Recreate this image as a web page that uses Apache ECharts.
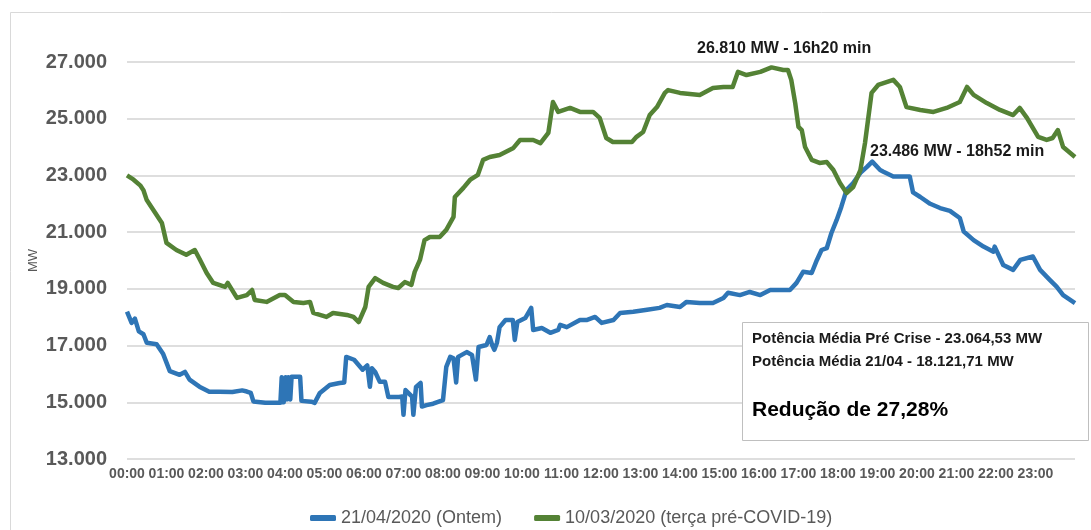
<!DOCTYPE html>
<html>
<head>
<meta charset="utf-8">
<title>Carga horária - 21/04 x 10/03</title>
<script src="https://cdn.jsdelivr.net/npm/echarts@6/dist/echarts.min.js"></script>
<style>
  html, body { margin: 0; padding: 0; background: #fff; }
  #grafico { width: 1091px; height: 530px; }
</style>
</head>
<body>
<div id="grafico"></div>
<script>
// rótulos do eixo horizontal (um por hora)
const horas = ['00:00', '01:00', '02:00', '03:00', '04:00', '05:00', '06:00', '07:00',
  '08:00', '09:00', '10:00', '11:00', '12:00', '13:00', '14:00', '15:00',
  '16:00', '17:00', '18:00', '19:00', '20:00', '21:00', '22:00', '23:00'];

const nomeOntem = '21/04/2020 (Ontem)';
const nomePreCovid = '10/03/2020 (terça pré-COVID-19)';

// [minuto do dia, MW]
const ontem = [
  [0, 18200], [7, 17800], [12, 17950], [18, 17500], [25, 17400], [30, 17100], [45, 17050],
  [55, 16700], [65, 16100], [80, 15970], [88, 16070], [95, 15800], [110, 15550], [125, 15370],
  [140, 15370], [160, 15360], [175, 15420], [182, 15380], [188, 15330], [192, 15030], [210, 14980],
  [233, 14980], [235, 15880], [238, 15000], [240, 15000], [241, 15880], [243, 15100], [245, 15880],
  [248, 15100], [250, 15900], [263, 15900], [265, 15050], [280, 15020], [285, 14980], [293, 15330],
  [308, 15610], [323, 15680], [330, 15700], [333, 16600], [345, 16500], [358, 16150], [365, 16300],
  [369, 15550], [372, 16200], [377, 16070], [384, 15720], [392, 15720], [397, 15190], [413, 15190],
  [418, 15200], [420, 14560], [423, 15430], [433, 15200], [435, 14560], [439, 15540], [446, 15680],
  [448, 14850], [455, 14900], [465, 14950], [480, 15080], [485, 16250], [491, 16600], [496, 16550],
  [500, 15700], [503, 16600], [516, 16770], [524, 16670], [530, 15800], [534, 16950], [546, 17020],
  [551, 17300], [555, 17000], [558, 16850], [562, 17100], [566, 17650], [575, 17900], [586, 17900],
  [589, 17200], [593, 17830], [605, 17970], [614, 18330], [617, 17550], [630, 17620], [643, 17450],
  [655, 17550], [658, 17730], [668, 17650], [688, 17900], [698, 17900], [711, 18010], [721, 17800],
  [739, 17900], [749, 18150], [769, 18190], [790, 18260], [809, 18330], [820, 18430], [840, 18360],
  [850, 18540], [870, 18500], [890, 18500], [906, 18680], [913, 18860], [931, 18780], [946, 18890],
  [962, 18780], [977, 18960], [992, 18960], [1007, 18960], [1017, 19210], [1027, 19600], [1040, 19560],
  [1048, 20020], [1055, 20370], [1063, 20440], [1070, 20970], [1078, 21430], [1085, 21890], [1093, 22490],
  [1103, 22730], [1114, 23090], [1124, 23300], [1132, 23486], [1144, 23190], [1149, 23130], [1164, 22960],
  [1189, 22960], [1194, 22400], [1205, 22240], [1220, 22000], [1235, 21850], [1250, 21750], [1265, 21500],
  [1271, 21020], [1286, 20720], [1301, 20490], [1316, 20310], [1318, 20490], [1331, 19840], [1346, 19670],
  [1357, 20020], [1376, 20140], [1387, 19670], [1402, 19310], [1412, 19080], [1422, 18780], [1440, 18500]
];

const preCovid = [
  [0, 23000], [10, 22850], [20, 22650], [25, 22480], [30, 22130], [40, 21780], [53, 21320],
  [60, 20620], [75, 20370], [90, 20200], [103, 20370], [111, 20020], [121, 19560], [131, 19210],
  [149, 19070], [153, 19210], [167, 18680], [182, 18780], [190, 18960], [194, 18610], [212, 18540],
  [232, 18780], [240, 18780], [253, 18540], [268, 18500], [278, 18540], [283, 18150], [303, 18010],
  [306, 17990], [313, 18150], [334, 18080], [344, 18010], [352, 17830], [362, 18360], [367, 19070],
  [377, 19380], [389, 19210], [404, 19070], [412, 19030], [422, 19240], [432, 19140], [437, 19600],
  [445, 20020], [452, 20720], [460, 20830], [475, 20830], [485, 21080], [496, 21540], [498, 22240],
  [511, 22560], [521, 22840], [533, 23020], [541, 23550], [551, 23650], [566, 23720], [587, 23970],
  [597, 24250], [617, 24250], [628, 24140], [640, 24500], [647, 25590], [655, 25240], [673, 25380],
  [688, 25240], [708, 25240], [718, 25030], [728, 24320], [738, 24180], [754, 24180], [767, 24180],
  [774, 24360], [784, 24530], [794, 25130], [805, 25410], [817, 25910], [822, 26010], [840, 25910],
  [870, 25840], [890, 26080], [906, 26120], [920, 26120], [928, 26650], [941, 26540], [962, 26650],
  [979, 26810], [997, 26720], [1004, 26720], [1009, 26370], [1015, 25550], [1020, 24710], [1025, 24600],
  [1030, 24000], [1040, 23550], [1052, 23440], [1063, 23470], [1073, 23190], [1083, 22730], [1093, 22380],
  [1103, 22590], [1114, 23190], [1121, 24140], [1131, 25910], [1141, 26190], [1164, 26370], [1174, 26120],
  [1184, 25410], [1205, 25310], [1225, 25240], [1245, 25380], [1265, 25590], [1276, 26120], [1286, 25840],
  [1306, 25550], [1326, 25310], [1346, 25130], [1356, 25380], [1367, 25030], [1384, 24360], [1397, 24250],
  [1406, 24320], [1414, 24600], [1422, 24000], [1440, 23650]
];

const picoPreCovid = '26.810 MW - 16h20 min';
const picoOntem = '23.486 MW - 18h52 min';
const resumo = ['Potência Média Pré Crise - 23.064,53 MW', 'Potência Média 21/04 - 18.121,71 MW'];
const reducao = 'Redução de 27,28%';

const fonte = '"Liberation Sans", Arial, sans-serif';
const cinza = '#595959';

function milhar(v) {
  return String(v).replace(/\B(?=(\d{3})+(?!\d))/g, '.');
}

const chart = echarts.init(document.getElementById('grafico'));

chart.setOption({
  animation: false,
  backgroundColor: '#fff',
  textStyle: { fontFamily: fonte },
  grid: { left: 127, right: 16, top: 62, bottom: 71 },
  legend: {
    data: [nomeOntem, nomePreCovid],
    left: 305,
    top: 504,
    icon: 'roundRect',
    itemWidth: 26,
    itemHeight: 6,
    itemGap: 32,
    textStyle: { fontFamily: fonte, fontSize: 18, color: cinza }
  },
  xAxis: {
    type: 'value',
    min: 0,
    max: 1440,
    interval: 60,
    axisLine: { show: false },
    axisTick: { show: false },
    splitLine: { show: false },
    axisLabel: {
      margin: 8,
      fontFamily: fonte,
      fontSize: 14,
      fontWeight: 'bold',
      color: cinza,
      formatter: function (v) {
        return horas[v / 60] || '';
      }
    }
  },
  yAxis: {
    type: 'value',
    min: 13000,
    max: 27000,
    interval: 2000,
    name: 'MW',
    nameLocation: 'middle',
    nameGap: 87,
    nameMoveOverlap: false,
    nameTextStyle: { fontFamily: fonte, fontSize: 13, color: cinza },
    axisLine: { show: false },
    axisTick: { show: false },
    splitLine: { lineStyle: { color: '#dedede', width: 2 } },
    axisLabel: {
      margin: 20,
      fontFamily: fonte,
      fontSize: 20,
      fontWeight: 'bold',
      color: cinza,
      formatter: milhar
    }
  },
  series: [
    {
      name: nomeOntem,
      type: 'line',
      data: ontem,
      showSymbol: false,
      color: '#2e75b6',
      lineStyle: { width: 4.5, color: '#2e75b6', join: 'round' }
    },
    {
      name: nomePreCovid,
      type: 'line',
      data: preCovid,
      showSymbol: false,
      color: '#548235',
      lineStyle: { width: 4.5, color: '#548235', join: 'round' }
    }
  ],
  graphic: [
    {
      type: 'rect',
      silent: true,
      z: -10,
      shape: { x: 10.5, y: 12.5, width: 1200, height: 600 },
      style: { fill: 'none', stroke: '#d9d9d9', lineWidth: 1 }
    },
    {
      type: 'text',
      left: 697,
      top: 41,
      z: 100,
      style: { text: picoPreCovid, font: 'bold 16px ' + fonte, fill: '#1a1a1a' }
    },
    {
      type: 'text',
      left: 870,
      top: 144,
      z: 100,
      style: { text: picoOntem, font: 'bold 16px ' + fonte, fill: '#1a1a1a' }
    },
    {
      type: 'group',
      left: 742,
      top: 322,
      z: 100,
      children: [
        {
          type: 'rect',
          z: 100,
          shape: { x: 0.5, y: 0.5, width: 346, height: 118 },
          style: { fill: '#fff', stroke: '#bfbfbf', lineWidth: 1 }
        },
        {
          type: 'text',
          z: 101,
          x: 10,
          y: 9,
          style: { text: resumo[0], font: 'bold 15px ' + fonte, fill: '#1a1a1a' }
        },
        {
          type: 'text',
          z: 101,
          x: 10,
          y: 32,
          style: { text: resumo[1], font: 'bold 15px ' + fonte, fill: '#1a1a1a' }
        },
        {
          type: 'text',
          z: 101,
          x: 10,
          y: 78,
          style: { text: reducao, font: 'bold 21px ' + fonte, fill: '#000' }
        }
      ]
    }
  ]
});
</script>
</body>
</html>
